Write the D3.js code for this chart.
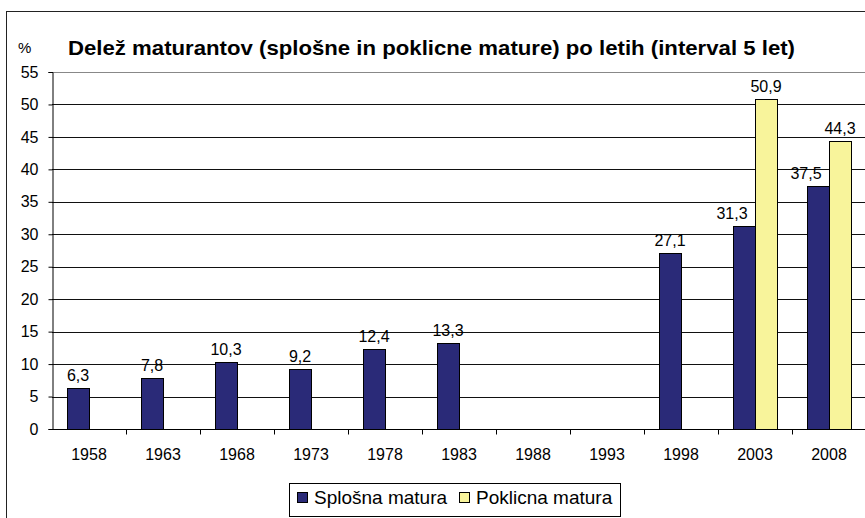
<!DOCTYPE html>
<html>
<head>
<meta charset="utf-8">
<style>
  body { margin: 0; background: #fff; }
  svg { font-family: "Liberation Sans", Arial, sans-serif; }
</style>
<script src="https://d3js.org/d3.v7.min.js"></script>
</head>
<body>
<script>
// data
var years = ["1958", "1963", "1968", "1973", "1978", "1983", "1988", "1993", "1998", "2003", "2008"];
var splosna = [6.3, 7.8, 10.3, 9.2, 12.4, 13.3, null, null, 27.1, 31.3, 37.5];
var poklicna = [null, null, null, null, null, null, null, null, null, 50.9, 44.3];
var seriesNames = ["Splošna matura", "Poklicna matura"];
var seriesColors = ["#2a2a78", "#f8f49b"];
var yTicks = d3.range(0, 56, 5);

var W = 865, H = 518;
var plotL = 52, plotR = 866, plotT = 72, plotB = 429;

var svg = d3.select("body").append("svg")
  .attr("width", W).attr("height", H);

// outer chart border
svg.append("rect")
  .attr("x", 6.5).attr("y", 11.5)
  .attr("width", W + 10).attr("height", H + 10)
  .attr("fill", "#fff").attr("stroke", "#222");

var x = d3.scaleBand().domain(years).range([plotL, plotR]);
var x1 = d3.scaleBand().domain([0, 1]).range([15, x.bandwidth() - 15]);
var y = d3.scaleLinear().domain([0, 55]).range([plotB, plotT]);

// gridlines
svg.append("g").selectAll("line")
  .data(yTicks.filter(function(d) { return d > 0; }))
  .join("line")
  .attr("x1", plotL).attr("x2", W)
  .attr("y1", function(d) { return Math.round(y(d)) + 0.5; })
  .attr("y2", function(d) { return Math.round(y(d)) + 0.5; })
  .attr("stroke", function(d) { return d == 55 ? "#888" : "#111"; });

// bars
var rows = [];
years.forEach(function(yr, i) {
  [splosna[i], poklicna[i]].forEach(function(v, s) {
    if (v != null) rows.push({ year: yr, s: s, v: v, pair: splosna[i] != null && poklicna[i] != null });
  });
});

svg.append("g").selectAll("rect")
  .data(rows)
  .join("rect")
  .attr("x", function(d) { return Math.round(x(d.year) + x1(d.s)) + 0.5; })
  .attr("y", function(d) { return Math.round(y(d.v)) + 0.5; })
  .attr("width", Math.round(x1.bandwidth()))
  .attr("height", function(d) { return plotB - Math.round(y(d.v)); })
  .attr("fill", function(d) { return seriesColors[d.s]; })
  .attr("stroke", "#000");

// value labels; the left one of a pair sits a bit to the left, as in Excel
svg.append("g").selectAll("text")
  .data(rows)
  .join("text")
  .attr("x", function(d) {
    var cx = x(d.year) + x1(d.s) + x1.bandwidth() / 2;
    return d.pair && d.s == 0 ? cx - 12 : cx;
  })
  .attr("y", function(d) { return y(d.v) - 7; })
  .attr("text-anchor", "middle")
  .style("font-size", "16px")
  .text(function(d) { return String(d.v).replace(".", ","); });

// axes
var yAxis = svg.append("g")
  .attr("transform", "translate(" + (plotL + 0.5) + ",0)")
  .call(d3.axisLeft(y).tickValues(yTicks).tickSize(4).tickPadding(10));
var xAxis = svg.append("g")
  .attr("transform", "translate(0," + (plotB + 0.5) + ")")
  .call(d3.axisBottom(x).tickSize(0).tickPadding(19));
[yAxis, xAxis].forEach(function(g) {
  g.attr("font-size", null).attr("font-family", null);
  g.select(".domain").attr("stroke", "#000");
  g.selectAll("text").style("font-size", "16px").attr("fill", "#000");
  g.selectAll("line").attr("stroke", "#000");
});
xAxis.select(".domain").attr("d", "M" + plotL + ",0H" + W);
// category separator ticks
xAxis.selectAll("line.sep")
  .data(years.slice(1))
  .join("line")
  .attr("class", "sep")
  .attr("x1", function(d) { return Math.round(x(d)) + 0.5; })
  .attr("x2", function(d) { return Math.round(x(d)) + 0.5; })
  .attr("y1", 0).attr("y2", 5)
  .attr("stroke", "#000");

// title
svg.append("text")
  .attr("x", 68).attr("y", 55)
  .attr("textLength", 727).attr("lengthAdjust", "spacingAndGlyphs")
  .style("font-size", "21px").attr("font-weight", "bold")
  .text("Delež maturantov (splošne in poklicne mature) po letih (interval 5 let)");
svg.append("text")
  .attr("x", 18).attr("y", 53)
  .style("font-size", "15px")
  .text("%");

// legend
var lg = svg.append("g");
lg.append("rect")
  .attr("x", 289.5).attr("y", 483.5)
  .attr("width", 331).attr("height", 33)
  .attr("fill", "#fff").attr("stroke", "#000");
var legendX = [297, 459];
seriesNames.forEach(function(n, i) {
  lg.append("rect")
    .attr("x", legendX[i] + 0.5).attr("y", 492.5)
    .attr("width", 10).attr("height", 10)
    .attr("fill", seriesColors[i]).attr("stroke", "#000");
  lg.append("text")
    .attr("x", legendX[i] + 17).attr("y", 504)
    .style("font-size", "19px")
    .text(n);
});
</script>
</body>
</html>
